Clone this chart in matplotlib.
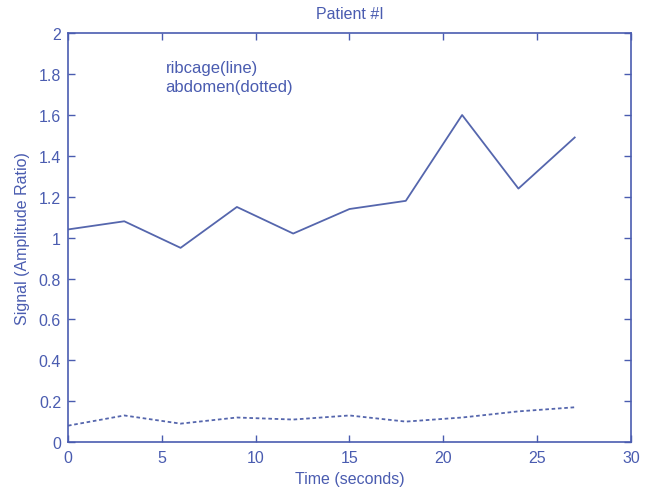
import matplotlib
matplotlib.use("Agg")
import matplotlib.pyplot as plt

# ── data ─────────────────────────────────────────────────────
time_s = [0, 3, 6, 9, 12, 15, 18, 21, 24, 27]
ribcage = [1.04, 1.08, 0.95, 1.15, 1.02, 1.14, 1.18, 1.60, 1.24, 1.49]
abdomen = [0.08, 0.13, 0.09, 0.12, 0.11, 0.13, 0.10, 0.12, 0.15, 0.17]

xticks = [0, 5, 10, 15, 20, 25, 30]
yticks = [0, 0.2, 0.4, 0.6, 0.8, 1, 1.2, 1.4, 1.6, 1.8, 2]

BLUE = "#4a5cb0"
LINE = "#5566ad"

plt.rcParams["font.family"] = ["Liberation Sans", "DejaVu Sans"]

fig = plt.figure(figsize=(6.58, 4.89), dpi=100)
ax = fig.add_axes([0.1033, 0.094, 0.8557, 0.836])

ax.plot(time_s, ribcage, "-", color=LINE, linewidth=1.3)
ax.plot(time_s, abdomen, linestyle=(0, (2, 1.5)), color=LINE, linewidth=1.3)

ax.set_xlim(0, 30)
ax.set_ylim(0, 2)
ax.set_xticks(xticks)
ax.set_yticks(yticks)
ax.set_yticklabels([f"{v:g}" for v in yticks])
ax.tick_params(direction="in", top=True, right=True, colors=BLUE,
               labelsize=11.5, length=5, width=1)
ax.tick_params(axis="x", pad=6)
ax.tick_params(axis="y", pad=5)
for s in ax.spines.values():
    s.set_color(BLUE)
    s.set_linewidth(1.2)

ax.set_title("Patient #I", color=BLUE, fontsize=11.5, pad=11)
ax.set_xlabel("Time (seconds)", color=BLUE, fontsize=11.5, labelpad=4)
ax.set_ylabel("Signal (Amplitude Ratio)", color=BLUE, fontsize=11.5, labelpad=6)

ax.text(5.2, 1.83, "ribcage(line)", color=BLUE, fontsize=12, va="center")
ax.text(5.2, 1.74, "abdomen(dotted)", color=BLUE, fontsize=12, va="center")

fig.savefig("out.png", dpi=100)
